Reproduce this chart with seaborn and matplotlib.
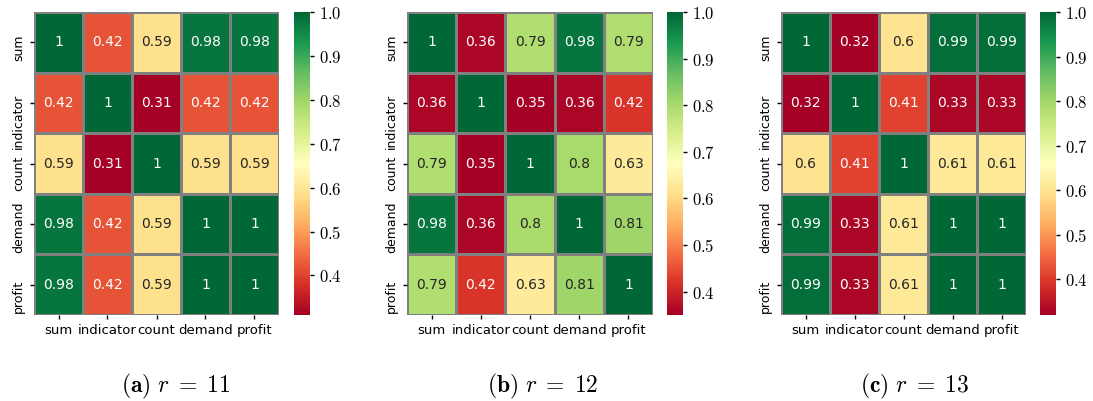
import numpy as np
import pandas as pd
import matplotlib
matplotlib.use("Agg")
import matplotlib.pyplot as plt
from matplotlib.ticker import FuncFormatter
from matplotlib.transforms import ScaledTranslation
import seaborn as sns

labels = ["sum", "indicator", "count", "demand", "profit"]

corr_r11 = [
    [1.00, 0.42, 0.59, 0.98, 0.98],
    [0.42, 1.00, 0.31, 0.42, 0.42],
    [0.59, 0.31, 1.00, 0.59, 0.59],
    [0.98, 0.42, 0.59, 1.00, 1.00],
    [0.98, 0.42, 0.59, 1.00, 1.00],
]
corr_r12 = [
    [1.00, 0.36, 0.79, 0.98, 0.79],
    [0.36, 1.00, 0.35, 0.36, 0.42],
    [0.79, 0.35, 1.00, 0.80, 0.63],
    [0.98, 0.36, 0.80, 1.00, 0.81],
    [0.79, 0.42, 0.63, 0.81, 1.00],
]
corr_r13 = [
    [1.00, 0.32, 0.60, 0.99, 0.99],
    [0.32, 1.00, 0.41, 0.33, 0.33],
    [0.60, 0.41, 1.00, 0.61, 0.61],
    [0.99, 0.33, 0.61, 1.00, 1.00],
    [0.99, 0.33, 0.61, 1.00, 1.00],
]
captions = [r"$\mathbf{(a)}\ r\;=\;11$", r"$\mathbf{(b)}\ r\;=\;12$", r"$\mathbf{(c)}\ r\;=\;13$"]

plt.rcParams["mathtext.fontset"] = "cm"
plt.rcParams["font.family"] = ["DejaVu Sans"]

W, H = 1093, 401
fig = plt.figure(figsize=(W / 100, H / 100), dpi=100)

# pixel layouts: (ax_left, ax_right, cbar_left, cbar_right)
layouts = [(34, 279, 294, 310), (407, 653, 667, 683), (781, 1026, 1040, 1056)]
top, bottom = 12, 315
cap_x = [176, 543, 915]
# downward shift (px) of the y tick labels, as in the reference
ylab_shift = [5, 18, 10, 3, 12]

for data, lay, cap, cx in zip([corr_r11, corr_r12, corr_r13], layouts, captions, cap_x):
    axl, axr, cbl, cbr = lay
    ax = fig.add_axes([axl / W, 1 - bottom / H, (axr - axl) / W, (bottom - top) / H])
    cax = fig.add_axes([cbl / W, 1 - bottom / H, (cbr - cbl) / W, (bottom - top) / H])
    df = pd.DataFrame(data, index=labels, columns=labels)
    sns.heatmap(df, ax=ax, cbar_ax=cax, cmap="RdYlGn", annot=True,
                annot_kws={"fontsize": 10}, linewidths=0.8, linecolor="gray")
    ax.tick_params(axis="x", labelsize=9.5, length=3, width=1, colors="black")
    ax.tick_params(axis="y", labelsize=9, length=3, width=1, colors="black")
    plt.setp(ax.get_xticklabels(), rotation=0)
    plt.setp(ax.get_yticklabels(), rotation=90, va="center")
    for lab, s in zip(ax.get_yticklabels(), ylab_shift):
        lab.set_transform(lab.get_transform() + ScaledTranslation(0, -s / 100, fig.dpi_scale_trans))
    cax.yaxis.set_major_formatter(FuncFormatter(lambda v, p: f"${v:.1f}$"))
    cax.tick_params(labelsize=12, length=3, width=1)
    fig.text(cx / W, 1 - 386 / H, cap, ha="center", va="center", fontsize=17)

fig.savefig("out.png", dpi=100)
